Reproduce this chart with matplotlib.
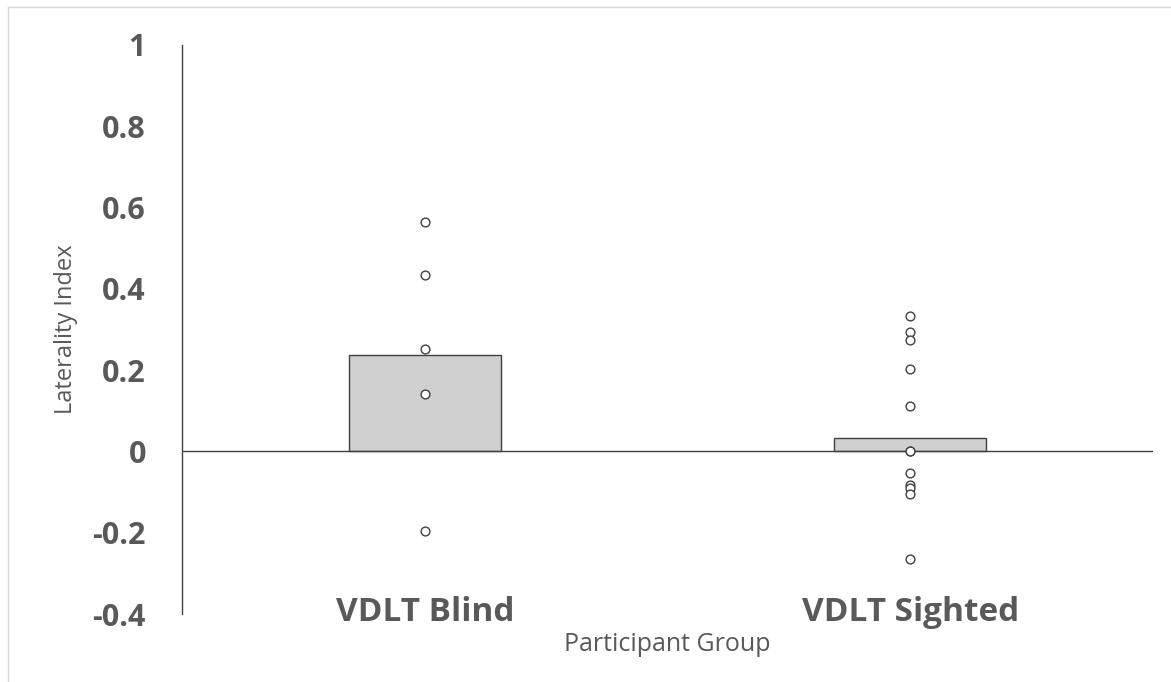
import matplotlib
matplotlib.use("Agg")
import matplotlib.pyplot as plt
from matplotlib.lines import Line2D

categories = ["VDLT Blind", "VDLT Sighted"]
means = [0.238, 0.034]
blind_points = [0.564, 0.434, 0.252, 0.142, -0.196]
sighted_points = [0.333, 0.294, 0.275, 0.203, 0.113, 0.0, 0.0,
                  -0.054, -0.083, -0.091, -0.105, -0.265]
yticks = [-0.4, -0.2, 0, 0.2, 0.4, 0.6, 0.8, 1]
ytick_labels = ["-0.4", "-0.2", "0", "0.2", "0.4", "0.6", "0.8", "1"]

plt.rcParams['font.family'] = ['Open Sans', 'DejaVu Sans']
grey_text = "#595959"

fig = plt.figure(figsize=(11.71, 6.82), dpi=100)
# chart-area border (top and left edges visible)
fig.lines.append(Line2D([8/1171, 8/1171], [0, 1 - 7/682], transform=fig.transFigure,
                        color="#d9d9d9", linewidth=1.0))
fig.lines.append(Line2D([8/1171, 1], [1 - 7/682, 1 - 7/682], transform=fig.transFigure,
                        color="#d9d9d9", linewidth=1.0))
ax = fig.add_axes([182/1171, 1 - 614/682, (1153 - 182)/1171, (614 - 45)/682])

x = [0, 1]
ax.bar(x, means, width=0.313, color="#d0d0d0", edgecolor="#404040",
       linewidth=1.0, zorder=2)
ax.axhline(0, color="#404040", linewidth=1.0, zorder=3)
ax.scatter([0]*len(blind_points), blind_points, s=40, facecolors="white",
           edgecolors="#404040", linewidths=1.0, zorder=4)
ax.scatter([1]*len(sighted_points), sighted_points, s=40, facecolors="white",
           edgecolors="#404040", linewidths=1.0, zorder=4)

ax.set_xlim(-0.5, 1.5)
ax.set_ylim(-0.4, 1)
ax.set_yticks(yticks)
ax.set_yticklabels(ytick_labels, fontsize=22, fontweight="bold", color=grey_text)
ax.tick_params(axis="y", length=0, pad=26)
ax.set_xticks(x)
ax.set_xticklabels(categories, fontsize=24, fontweight="bold", color=grey_text)
ax.tick_params(axis="x", length=0, pad=-13)

for s in ["top", "right", "bottom"]:
    ax.spines[s].set_visible(False)
ax.spines["left"].set_color("#404040")
ax.spines["left"].set_linewidth(1.0)

ax.set_ylabel("Laterality Index", fontsize=17, color=grey_text, labelpad=10)
ax.set_xlabel("Participant Group", fontsize=18, color=grey_text, labelpad=2)

fig.savefig("out.png", dpi=100, facecolor="white")
